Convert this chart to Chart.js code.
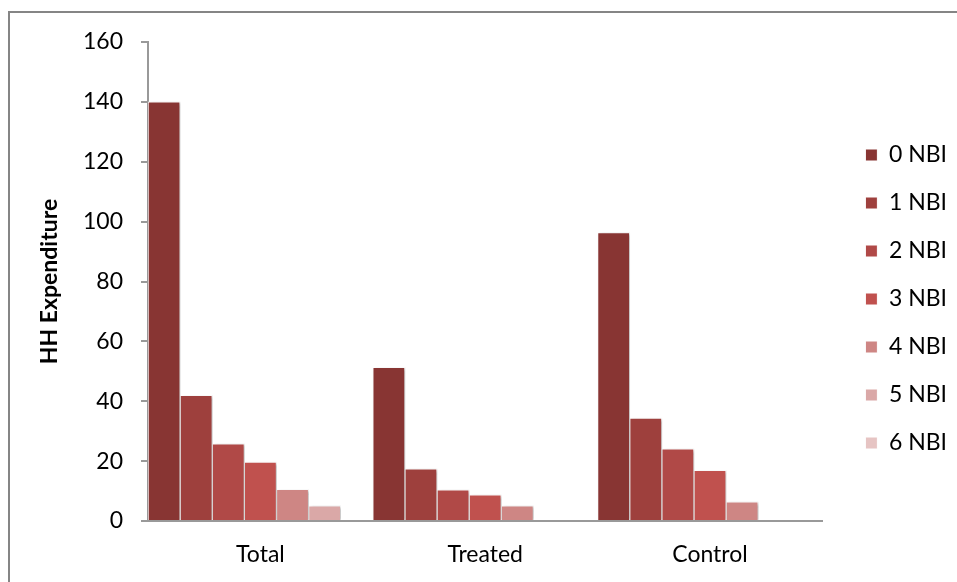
<!DOCTYPE html>
<html>
<head>
<meta charset="utf-8">
<script src="https://cdn.jsdelivr.net/npm/chart.js@4.4.1/dist/chart.umd.min.js"></script>
<style>
  html, body { margin: 0; padding: 0; background: #fff; }
  #wrap { position: relative; width: 957px; height: 582px; overflow: hidden; }
  #frame { position: absolute; left: 8px; top: 11px; width: 1200px; height: 900px;
           border: 2px solid #858585; box-sizing: border-box; }
  canvas { position: absolute; left: 0; top: 0; }
</style>
</head>
<body>
<div id="wrap">
  <div id="frame"></div>
  <canvas id="chart" width="957" height="582"></canvas>
</div>
<script>
// Household expenditure by number of unmet basic needs (NBI)
const categories = ['Total', 'Treated', 'Control'];
const seriesNames = ['0 NBI', '1 NBI', '2 NBI', '3 NBI', '4 NBI', '5 NBI', '6 NBI'];
const nbi0 = [140, 51.3, 96.3];
const nbi1 = [42, 17.4, 34.4];
const nbi2 = [25.8, 10.4, 24.1];
const nbi3 = [19.7, 8.7, 16.9];
const nbi4 = [10.6, 5.1, 6.4];
const nbi5 = [5.1, null, null];
const nbi6 = [null, null, null];
const yTicks = [0, 20, 40, 60, 80, 100, 120, 140, 160];

const seriesValues = [nbi0, nbi1, nbi2, nbi3, nbi4, nbi5, nbi6];
const seriesColors = ['#883533', '#9e403d', '#b04947', '#c0514e', '#ce8684', '#daa8a7', '#e6c4c3'];

const FONT = 'Lato, "Open Sans", sans-serif';

// soft drop shadow under the bars
const barShadow = {
  id: 'barShadow',
  beforeDatasetsDraw(chart) {
    const ctx = chart.ctx;
    ctx.save();
    ctx.shadowColor = 'rgba(0,0,0,0.28)';
    ctx.shadowBlur = 3;
    ctx.shadowOffsetX = 2;
    ctx.shadowOffsetY = 1;
  },
  afterDatasetsDraw(chart) {
    chart.ctx.restore();
  }
};

// lift the legend column a little above the vertical centre
const legendLift = {
  id: 'legendLift',
  afterLayout(chart) {
    const lg = chart.legend;
    if (lg) { lg.top -= 13; lg.bottom -= 13; }
  }
};

new Chart(document.getElementById('chart'), {
  type: 'bar',
  data: {
    labels: categories,
    datasets: seriesNames.map((name, i) => ({
      label: name,
      data: seriesValues[i],
      backgroundColor: seriesColors[i],
      borderColor: '#ffffff',
      borderWidth: 1,
      categoryPercentage: 1.0,
      barPercentage: 1.0
    }))
  },
  options: {
    responsive: false,
    animation: false,
    layout: { padding: { left: 36, right: 0, top: 42, bottom: 0 } },
    plugins: {
      tooltip: { enabled: false },
      legend: {
        position: 'right',
        labels: {
          font: { family: FONT, size: 23 },
          color: '#000',
          boxWidth: 12,
          boxHeight: 12,
          padding: 25
        }
      }
    },
    scales: {
      x: {
        z: 1,
        grid: { display: false, drawTicks: false },
        border: { display: true, color: '#999999', width: 2 },
        ticks: { font: { family: FONT, size: 23 }, color: '#000', padding: 20 },
        afterFit(scale) { scale.height = 61; }
      },
      y: {
        min: 0,
        max: 160,
        afterBuildTicks(scale) { scale.ticks = yTicks.map(v => ({ value: v })); },
        grid: { drawOnChartArea: false, drawTicks: true, tickLength: 7, color: '#999999', lineWidth: 2 },
        border: { display: true, color: '#999999', width: 2 },
        ticks: { font: { family: FONT, size: 23 }, color: '#000', padding: 18 },
        title: {
          display: true,
          text: 'HH Expenditure',
          font: { family: FONT, size: 23, weight: 'bold' },
          color: '#000',
          padding: { top: 0, bottom: 0 }
        },
        afterFit(scale) { scale.width = 112; }
      },
      gap: {
        position: 'right',
        display: true,
        grid: { display: false },
        border: { display: false },
        ticks: { display: false },
        afterFit(scale) { scale.width = 18; }
      }
    }
  },
  plugins: [barShadow, legendLift]
});
</script>
</body>
</html>
